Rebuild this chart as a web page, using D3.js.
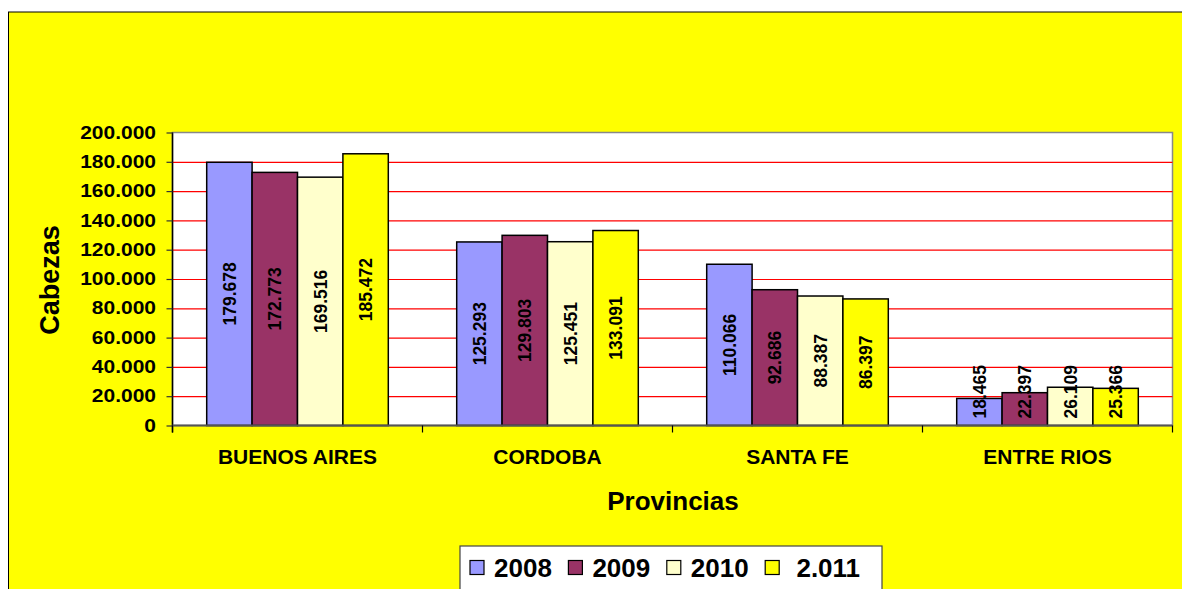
<!DOCTYPE html>
<html>
<head>
<meta charset="utf-8">
<script src="https://cdn.jsdelivr.net/npm/d3@7"></script>
<style>
  body { margin: 0; background: #fff; }
  text { font-family: "Liberation Sans", Arial, sans-serif; }
</style>
</head>
<body>
<div id="chart"></div>
<script>
// cabezas por provincia y por año
let provincias = ["BUENOS AIRES", "CORDOBA", "SANTA FE", "ENTRE RIOS"];
let years = ["2008", "2009", "2010", " 2.011"];
let colors = ["#9999ff", "#993366", "#ffffcc", "#ffff00"];
let v2008 = [179678, 125293, 110066, 18465];
let v2009 = [172773, 129803, 92686, 22397];
let v2010 = [169516, 125451, 88387, 26109];
let v2011 = [185472, 133091, 86397, 25366];
let yTicks = [0, 20000, 40000, 60000, 80000, 100000, 120000, 140000, 160000, 180000, 200000];

let series = [v2008, v2009, v2010, v2011];

let W = 1182, H = 589;
let margin = {top: 132.5, right: 9.5, bottom: 163.5, left: 172.5};
let width = W - margin.left - margin.right;
let height = H - margin.top - margin.bottom;

let loc = d3.formatLocale({decimal: ",", thousands: ".", grouping: [3], currency: ["$", ""]});
let fmt = loc.format(",d");

let svg = d3.select("#chart").append("svg")
    .attr("width", W)
    .attr("height", H);

// fondo amarillo con marco
svg.append("rect")
    .attr("x", 8.5).attr("y", 12)
    .attr("width", W).attr("height", H)
    .attr("fill", "#ffff00")
    .attr("stroke", "#000")
    .attr("stroke-width", 1);

let g = svg.append("g")
    .attr("transform", "translate(" + margin.left + "," + margin.top + ")");

g.append("rect")
    .attr("width", width).attr("height", height)
    .attr("fill", "#fff")
    .attr("stroke", "#888")
    .attr("stroke-width", 1.5);

let x0 = d3.scaleBand().domain(provincias).range([0, width]).paddingInner(0).paddingOuter(0);
let x1 = d3.scaleBand().domain(d3.range(years.length)).range([34.2, x0.bandwidth() - 34.2]);
let y = d3.scaleLinear().domain([0, 200000]).range([height, 0]);

// grilla roja
g.append("g")
    .attr("class", "grid")
    .call(d3.axisLeft(y).tickValues(yTicks.filter(d => d > 0 && d < 200000)).tickSize(-width).tickFormat(""))
    .call(a => a.select(".domain").remove())
    .selectAll("line")
    .attr("stroke", "#ff0000")
    .attr("stroke-width", 1.2);

// barras
let groups = g.selectAll(".prov")
    .data(provincias)
    .enter().append("g")
    .attr("class", "prov")
    .attr("transform", d => "translate(" + x0(d) + ",0)");

groups.selectAll("rect")
    .data((d, i) => series.map((s, j) => ({j: j, value: s[i]})))
    .enter().append("rect")
    .attr("x", d => x1(d.j))
    .attr("width", x1.bandwidth())
    .attr("y", d => y(d.value))
    .attr("height", d => height - y(d.value))
    .attr("fill", d => colors[d.j])
    .attr("stroke", "#000")
    .attr("stroke-width", 1.5);

// etiquetas de datos
groups.selectAll(".lbl")
    .data((d, i) => series.map((s, j) => ({j: j, value: s[i]})))
    .enter().append("text")
    .attr("class", "lbl")
    .attr("text-anchor", "middle")
    .attr("dy", "0.36em")
    .style("font-size", "17.5px")
    .style("font-weight", "bold")
    .text(d => fmt(d.value))
    .each(function(d) {
        let len = this.getComputedTextLength();
        let cy = (y(d.value) + height) / 2;
        cy = Math.min(cy, height - 7 - len / 2);
        let cx = x1(d.j) + x1.bandwidth() / 2;
        d3.select(this).attr("transform", "translate(" + cx + "," + cy + ") rotate(-90)");
    });

// eje y
let yAxis = g.append("g")
    .call(d3.axisLeft(y).tickValues(yTicks).tickSize(6).tickPadding(0).tickFormat(d => fmt(d)));
yAxis.select(".domain").attr("stroke", "#000").attr("stroke-width", 1.5).attr("d", "M0,0V" + (height + 7));
yAxis.selectAll(".tick line").attr("stroke", "#333").attr("stroke-width", 1.2);
yAxis.selectAll(".tick text")
    .attr("x", -16.5 / 1.2)
    .attr("transform", "scale(1.2,1)")
    .attr("fill", "#000")
    .style("font-size", "17.5px")
    .style("font-weight", "bold");

// eje x
let xAxis = g.append("g")
    .attr("transform", "translate(0," + height + ")")
    .call(d3.axisBottom(x0).tickSize(0).tickPadding(0));
xAxis.select(".domain").attr("stroke", "#555").attr("stroke-width", 2).attr("d", "M0,0H" + width);
xAxis.selectAll(".tick text")
    .attr("y", 38.5)
    .attr("dy", 0)
    .attr("fill", "#000")
    .style("font-size", "21px")
    .style("font-weight", "bold");
xAxis.selectAll(".sep")
    .data(d3.range(provincias.length + 1))
    .enter().append("line")
    .attr("class", "sep")
    .attr("x1", d => d * x0.step()).attr("x2", d => d * x0.step())
    .attr("y1", 0).attr("y2", 7)
    .attr("stroke", "#000")
    .attr("stroke-width", 1.2);

// titulos de ejes
svg.append("text")
    .attr("transform", "translate(59,280) rotate(-90)")
    .attr("text-anchor", "middle")
    .style("font-size", "27px")
    .style("font-weight", "bold")
    .text("Cabezas");

svg.append("text")
    .attr("x", 673).attr("y", 510)
    .attr("text-anchor", "middle")
    .style("font-size", "26px")
    .style("font-weight", "bold")
    .text("Provincias");

// leyenda
let legend = svg.append("g").attr("transform", "translate(460,546)");
legend.append("rect")
    .attr("width", 422).attr("height", 60)
    .attr("fill", "#fff")
    .attr("stroke", "#444")
    .attr("stroke-width", 1.2);

let items = legend.selectAll(".item")
    .data(years)
    .enter().append("g")
    .attr("class", "item")
    .attr("transform", (d, i) => "translate(" + (10 + i * 98.4) + ",0)");

items.append("rect")
    .attr("y", 14.5).attr("width", 14).attr("height", 14)
    .attr("fill", (d, i) => colors[i])
    .attr("stroke", "#000")
    .attr("stroke-width", 1.2);

items.append("text")
    .attr("x", 24).attr("y", 30.5)
    .style("font-size", "26px")
    .style("font-weight", "bold")
    .style("white-space", "pre")
    .text(d => d);
</script>
</body>
</html>
